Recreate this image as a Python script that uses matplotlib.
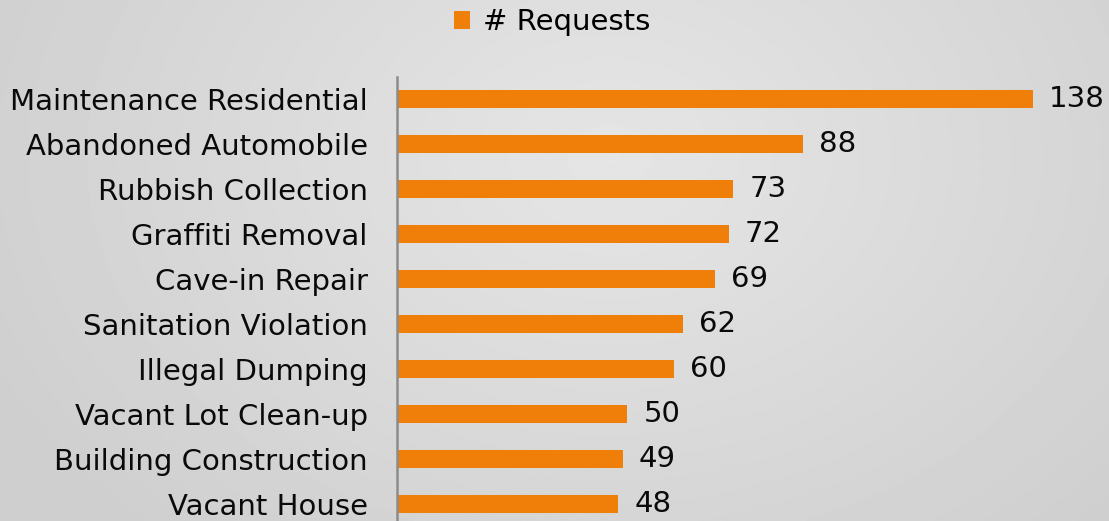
import numpy as np
import matplotlib.pyplot as plt

# data (top to bottom)
categories = ['Maintenance Residential', 'Abandoned Automobile', 'Rubbish Collection',
              'Graffiti Removal', 'Cave-in Repair', 'Sanitation Violation',
              'Illegal Dumping', 'Vacant Lot Clean-up', 'Building Construction',
              'Vacant House']
requests = [138, 88, 73, 72, 69, 62, 60, 50, 49, 48]

orange = '#f07f09'
fs = 21

fig = plt.figure(figsize=(11.09, 5.21), dpi=100)

# radial gray background
bg = fig.add_axes([0, 0, 1, 1], zorder=-10)
yy, xx = np.mgrid[0:1:300j, 0:1:600j]
r = np.sqrt(((xx - 0.55) * 1.6) ** 2 + (yy - 0.7) ** 2)
bg.imshow(0.9 - 0.09 * np.clip(r, 0, 1), cmap='gray', vmin=0, vmax=1,
          aspect='auto', extent=[0, 1, 0, 1], origin='lower')
bg.axis('off')

ax = fig.add_axes([397 / 1109, -0.01056, 1 - 397 / 1109, 0.8637])
ax.patch.set_alpha(0)
y = np.arange(len(categories))
bars = ax.barh(y, requests, height=0.4, color=orange, label='# Requests')
ax.set_ylim(len(categories) - 0.5, -0.5)
ax.set_xlim(0, (1109 - 397) / 4.609)
ax.set_yticks(y)
ax.set_yticklabels(categories, fontsize=fs, color='#0a0a0a')
ax.tick_params(axis='y', length=0, pad=21)
ax.set_xticks([])
for s in ['top', 'right', 'bottom']:
    ax.spines[s].set_visible(False)
ax.spines['left'].set_color('#8c8c8c')
ax.spines['left'].set_linewidth(1.8)

for b, v in zip(bars, requests):
    ax.annotate(str(v), (v, b.get_y() + b.get_height() / 2), xytext=(16, 0),
                textcoords='offset pixels', va='center', ha='left',
                fontsize=fs, color='#0a0a0a')

fig.legend(handles=[bars], loc='center', bbox_to_anchor=(0.498, 0.957),
           frameon=False, fontsize=fs, handlelength=0.55, handleheight=0.55,
           handletextpad=0.45)

fig.savefig('out.png', dpi=100)
